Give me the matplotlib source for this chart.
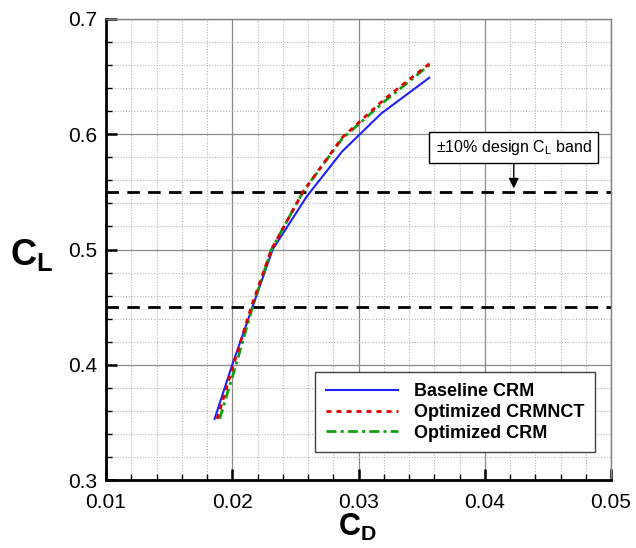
import matplotlib
matplotlib.use("Agg")
import matplotlib.pyplot as plt
from matplotlib.ticker import MultipleLocator

plt.rcParams['font.family'] = ['Liberation Sans', 'DejaVu Sans']
plt.rcParams['mathtext.fontset'] = 'custom'
plt.rcParams['mathtext.rm'] = 'Liberation Sans'
plt.rcParams['mathtext.it'] = 'Liberation Sans'
plt.rcParams['mathtext.bf'] = 'Liberation Sans:bold'

# Data
cd_baseline = [0.0186, 0.0200, 0.0216, 0.0232, 0.0259, 0.0287, 0.0318, 0.0356]
cl_baseline = [0.353, 0.400, 0.450, 0.500, 0.546, 0.585, 0.618, 0.649]
cd_crmnct = [0.0188, 0.0201, 0.0215, 0.0231, 0.0256, 0.0287, 0.0320, 0.0357]
cl_crmnct = [0.353, 0.400, 0.450, 0.500, 0.550, 0.597, 0.630, 0.662]
cd_optcrm = [0.0190, 0.0203, 0.0216, 0.0231, 0.0256, 0.0287, 0.0320, 0.0356]
cl_optcrm = [0.353, 0.400, 0.450, 0.500, 0.550, 0.596, 0.628, 0.660]
band_levels = [0.45, 0.55]
series_labels = ["Baseline CRM", "Optimized CRMNCT", "Optimized CRM"]
xticks = [0.01, 0.02, 0.03, 0.04, 0.05]
yticks = [0.3, 0.4, 0.5, 0.6, 0.7]

fig = plt.figure(figsize=(6.36, 5.48), dpi=100)
ax = fig.add_axes([106/636, 1-480/548, 505/636, 461/548])

ax.set_xlim(0.01, 0.05)
ax.set_ylim(0.3, 0.7)
ax.set_xticks(xticks)
ax.set_yticks(yticks)
ax.set_xticklabels([f"{v:g}" for v in xticks])
ax.set_yticklabels([f"{v:g}" for v in yticks])
ax.xaxis.set_minor_locator(MultipleLocator(0.002))
ax.yaxis.set_minor_locator(MultipleLocator(0.02))

ax.grid(which='major', color='#8a8a8a', lw=0.9, ls='-', zorder=0)
ax.grid(which='minor', color='#b5b5b5', lw=0.8, ls=(0, (1, 1.5)), zorder=0)
ax.set_axisbelow(True)

ax.tick_params(which='major', direction='in', length=8, width=1.8, labelsize=15,
               top=False, right=False)
ax.tick_params(axis='x', which='major', pad=9)
ax.tick_params(axis='y', which='major', pad=6)
ax.tick_params(which='minor', direction='in', length=4, width=1, top=False, right=False)

for s in ['left', 'bottom']:
    ax.spines[s].set_linewidth(2)
    ax.spines[s].set_color('black')
for s in ['top', 'right']:
    ax.spines[s].set_linewidth(1)
    ax.spines[s].set_color('#808080')

for lvl in band_levels:
    ax.axhline(lvl, color='black', lw=2, dashes=(4.5, 3), zorder=2)

l1, = ax.plot(cd_baseline, cl_baseline, color='#2020ff', lw=1.5, zorder=3,
              label=series_labels[0])
l2, = ax.plot(cd_crmnct, cl_crmnct, color='#e00000', lw=2, dashes=(1.8, 1.8),
              zorder=4, label=series_labels[1])
l3, = ax.plot(cd_optcrm, cl_optcrm, color='#10a010', lw=2,
              dashes=(3.6, 1.5, 1.1, 1.5), zorder=3.5, label=series_labels[2])

leg = ax.legend(handles=[l1, l2, l3], loc='lower right',
                bbox_to_anchor=(0.968, 0.06), prop={'weight': 'bold', 'size': 13},
                handlelength=4.0, handletextpad=0.85, labelspacing=0.2,
                borderpad=0.6, borderaxespad=0, fancybox=False, framealpha=1,
                edgecolor='#404040')
leg.get_frame().set_linewidth(1)
leg.set_zorder(6)

ax.annotate(r'±10% design C$_\mathrm{L}$ band', xy=(0.0423, 0.553),
            xytext=(0.0423, 0.5885), ha='center', va='center', fontsize=11.5,
            bbox=dict(boxstyle='square,pad=0.4', fc='white', ec='black', lw=1),
            arrowprops=dict(arrowstyle='-|>', color='black', lw=1,
                            mutation_scale=15, shrinkA=0, shrinkB=0),
            zorder=7)

ax.set_xlabel(r'$\mathbf{C}_\mathbf{D}$', fontsize=22)
ax.set_ylabel(r'$\mathbf{C}_\mathbf{L}$', fontsize=26, rotation=0)
ax.xaxis.set_label_coords((357-106)/505, -(527-480)/461)
ax.yaxis.set_label_coords(-(106-32)/505, (480-255)/461)
ax.yaxis.label.set_va('center')
ax.yaxis.label.set_ha('center')
ax.xaxis.label.set_va('center')

fig.savefig('out.png', dpi=100)
